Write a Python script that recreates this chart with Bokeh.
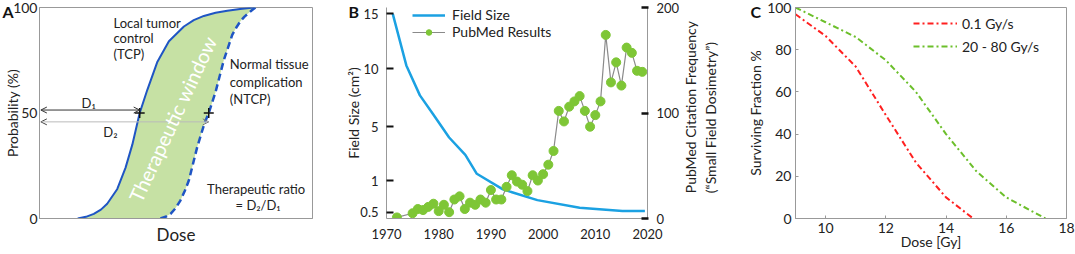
import numpy as np
from bokeh.plotting import figure
from bokeh.layouts import row
from bokeh.models import (LinearAxis, FixedTicker, Label, Arrow, OpenHead,
                          Legend, LegendItem, Range1d, Title)
from bokeh.embed import file_html
from bokeh.resources import INLINE

FONT = "Lato"
TXT = "#222222"

# ---------------- Panel A data (dose in arbitrary units, probability %) -------------
tcp_dose = [1.40, 1.70, 1.99, 2.25, 2.48, 2.85, 3.15, 3.40, 3.67, 3.95, 4.31, 4.74,
            5.29, 5.65, 6.02, 6.45, 6.88, 7.35, 7.85]
tcp_prob = [0, 0.8, 2.2, 4.2, 7, 14, 24, 35, 50, 61, 74, 84, 91, 94, 96, 97.5, 98.5, 99.3, 100]
ntcp_dose = [4.43, 4.62, 4.80, 4.98, 5.16, 5.32, 5.47, 5.78, 6.04, 6.20, 6.45, 6.75,
             7.06, 7.21, 7.36, 7.51, 7.67, 7.79, 7.91]
ntcp_prob = [0, 0.8, 2.2, 4.8, 8.5, 13, 18, 34, 45, 50, 60, 75, 87, 90.5, 93.5, 95.7, 97.5, 98.8, 100]
a_yticks = [0, 50, 100]

# ---------------- Panel B data ----------------
fs_years = [1971.2, 1973.8, 1976.4, 1978.9, 1982.0, 1985.1, 1987.3, 1992.3, 1998.9, 2007.0, 2015.2, 2019.5]
fs_vals = [15, 10.3, 7.7, 6.1, 4.2, 2.9, 1.5, 0.86, 0.69, 0.57, 0.52, 0.52]
fs_tick_vals = [0.5, 1, 5, 10, 15]
fs_tick_labels = ["0.5", "1", "5", "10", "15"]
fs_tick_pos = [6, 36, 87, 142, 194]   # where each field-size tick sits on the 0-200 scale

pm_years = [1972] + list(range(1975, 2020))
pm_vals = [1, 5, 9, 8, 11, 14, 7, 13, 6, 18, 21, 9, 15, 13, 18, 15, 27, 18, 18, 30,
           41, 35, 32, 26, 41, 36, 42, 51, 64, 102, 92, 106, 111, 116, 102, 87, 98,
           111, 174, 129, 148, 126, 162, 157, 140, 139]
b_xticks = [1970, 1980, 1990, 2000, 2010, 2020]
b_rticks = [0, 100, 200]

# ---------------- Panel C data ----------------
red_dose = [9, 10, 11, 12, 13, 14, 14.9]
red_sf = [96.8, 86.5, 72, 49, 26.5, 10, 0]
green_dose = [9, 10, 11, 12, 13, 14, 15, 16, 17.3]
green_sf = [100, 93, 86, 75, 60, 40, 22.5, 10, 0]
c_xticks = [10, 12, 14, 16, 18]
c_yticks = [0, 20, 40, 60, 80, 100]

H = 254
MBT, MBB = 7, 36
FH = H - MBT - MBB


def base_fig(width, xr, yr, mbl, mbr):
    p = figure(width=width, height=H, x_range=xr, y_range=yr, title=None,
               output_backend="svg", toolbar_location=None,
               min_border_left=mbl, min_border_right=mbr,
               min_border_top=MBT, min_border_bottom=MBB)
    p.xgrid.visible = False
    p.ygrid.visible = False
    p.background_fill_color = "white"
    p.border_fill_color = "white"
    return p


def style_axis(ax, size="13px", standoff=3, label=None, label_size="14px", label_standoff=0):
    ax.major_label_text_font = FONT
    ax.major_label_text_font_size = size
    ax.major_label_text_color = TXT
    ax.minor_tick_line_color = None
    ax.major_label_standoff = standoff
    if label is not None:
        ax.axis_label = label
        ax.axis_label_text_font = FONT
        ax.axis_label_text_font_size = label_size
        ax.axis_label_text_font_style = "normal"
        ax.axis_label_text_color = TXT
        ax.axis_label_standoff = label_standoff


def lab(p, text, x, y, size="13px", angle=0, align="left", color=TXT):
    p.add_layout(Label(x=x, y=y, text=text,
                       text_font=FONT, text_font_size=size, text_color=color,
                       text_align=align, text_baseline="middle",
                       angle=angle, angle_units="deg"))


def letter(p, text, offset):
    p.add_layout(Title(text=text, align="left", offset=offset, standoff=-26,
                       text_font=FONT, text_font_size="16px", text_font_style="bold",
                       text_color="#111111"), "above")


# ======================= Panel A =======================
A_W = 340
pa = base_fig(A_W, Range1d(0, 10), Range1d(0, 100), 39, 28)
pa.outline_line_color = "#999999"
pa.xaxis.ticker = FixedTicker(ticks=[])
style_axis(pa.xaxis[0], "13px", 0, "Dose", "17px", 5)
pa.xaxis.axis_line_color = "#999999"
pa.xaxis.major_tick_line_color = None
pa.xaxis.major_tick_out = 0
pa.xaxis.major_tick_in = 0
pa.yaxis.ticker = FixedTicker(ticks=a_yticks)
style_axis(pa.yaxis[0], "14px", 2, "Probability (%)", "14px", -11)
pa.yaxis.axis_line_color = "#999999"
pa.yaxis.major_tick_line_color = None
pa.yaxis.major_tick_out = 0
pa.yaxis.major_tick_in = 0

pa.patch(tcp_dose + ntcp_dose[::-1], tcp_prob + ntcp_prob[::-1],
         fill_color="#c6e1a4", line_color=None)
pa.line(tcp_dose, tcp_prob, line_color="#1f55c4", line_width=2)
pa.line(ntcp_dose, ntcp_prob, line_color="#1f55c4", line_width=2.5, line_dash="7 4")

D1 = float(np.interp(50, tcp_prob, tcp_dose))
D2 = float(np.interp(50, ntcp_prob, ntcp_dose))
pa.add_layout(Arrow(x_start=0.05, y_start=51.4, x_end=D1, y_end=51.4,
                    line_color="#333333", line_width=1,
                    start=OpenHead(size=6, line_color="#333333", line_width=1),
                    end=OpenHead(size=6, line_color="#333333", line_width=1)))
pa.add_layout(Arrow(x_start=0.05, y_start=45.8, x_end=D2, y_end=45.8,
                    line_color="#bbbbbb", line_width=1,
                    start=OpenHead(size=6, line_color="#444444", line_width=1),
                    end=OpenHead(size=6, line_color="#777777", line_width=1)))
pa.scatter([D1, D2], [50, 50], marker="cross", size=10, line_color="#111111", line_width=1.5)

lab(pa, "Therapeutic window", 4.87, 47.2, size="20px", angle=65, align="center", color="white")
for t, yy in zip(["Local tumor", "control", "(TCP)"], [92.5, 85.4, 77.8]):
    lab(pa, t, 2.71, yy)
for t, yy in zip(["Normal tissue", "complication", "(NTCP)"], [73, 64.6, 56.5]):
    lab(pa, t, 6.97, yy)
lab(pa, "Therapeutic ratio", 6.14, 14)
lab(pa, "= D\u2082/D\u2081", 7.18, 6.6)
lab(pa, "D\u2081", 1.80, 54.7, align="center")
lab(pa, "D\u2082", 2.60, 41.2, align="center")
letter(pa, "A", -37)

# ======================= Panel B =======================
B_MBL, B_MBR, B_W = 46, 87, 400
pb = base_fig(B_W, Range1d(1970, 2020), Range1d(0, 200), B_MBL, B_MBR)
pb.outline_line_color = None
pb.xaxis.ticker = FixedTicker(ticks=b_xticks)
style_axis(pb.xaxis[0], "13px", 4)
pb.xaxis.major_tick_line_color = None
pb.xaxis.axis_line_color = "#999999"

pb.yaxis.ticker = FixedTicker(ticks=fs_tick_pos)
pb.yaxis.major_label_overrides = {pos: l for pos, l in zip(fs_tick_pos, fs_tick_labels)}
style_axis(pb.yaxis[0], "13px", 8, "Field Size (cm\u00b2)", "14px", -5)
pb.yaxis.axis_line_color = "#999999"
pb.yaxis.major_tick_in = 7
pb.yaxis.major_tick_out = 0
pb.yaxis.major_tick_line_width = 2
pb.yaxis.major_tick_line_color = "#111111"

rax = LinearAxis(ticker=FixedTicker(ticks=b_rticks))
style_axis(rax, "13px", 8)
rax.axis_line_color = "#999999"
rax.major_tick_in = 6
rax.major_tick_out = 1
rax.major_tick_line_width = 2.5
rax.major_tick_line_color = "#111111"
pb.add_layout(rax, "right")

# right-hand title, written as a rotated (bottom-to-top) label of an extra bare axis
pm_title = "PubMed Citation Frequency\n(\u201cSmall Field Dosimetry\u201d)"
pm_title_start = 24
rax2 = LinearAxis(ticker=FixedTicker(ticks=[pm_title_start]),
                  major_label_overrides={pm_title_start: pm_title})
style_axis(rax2, "14px", 18)
rax2.major_label_orientation = np.pi / 2
rax2.axis_line_color = None
rax2.major_tick_line_color = None
rax2.major_tick_in = 0
rax2.major_tick_out = 0
pb.add_layout(rax2, "right")

fs_y = np.interp(fs_vals, fs_tick_vals, fs_tick_pos)
r_fs = pb.line(fs_years, fs_y, line_color="#1ba1e2", line_width=2.5)
r_pml = pb.line(pm_years, pm_vals, line_color="#8a8a8a", line_width=1.2)
r_pms = pb.scatter(pm_years, pm_vals, size=9, fill_color="#7ec636", line_color="#7ec636")

leg_b = Legend(items=[LegendItem(label="Field Size", renderers=[r_fs]),
                      LegendItem(label="PubMed Results", renderers=[r_pml, r_pms])],
               location=(26, FH - 33), glyph_width=33, glyph_height=14,
               label_height=14, spacing=0, padding=0, margin=0,
               label_standoff=7, border_line_color=None, background_fill_alpha=0,
               label_text_font=FONT, label_text_font_size="14px",
               label_text_color=TXT)
pb.add_layout(leg_b)
letter(pb, "B", -38)

# ======================= Panel C =======================
C_MBL, C_MBR, C_W = 55, 9, 335
pc = base_fig(C_W, Range1d(9, 18), Range1d(0, 100), C_MBL, C_MBR)
pc.outline_line_color = "#999999"
pc.xaxis.ticker = FixedTicker(ticks=c_xticks)
pc.yaxis.ticker = FixedTicker(ticks=c_yticks)
style_axis(pc.xaxis[0], "14px", 4, "Dose [Gy]", "14px", -3)
style_axis(pc.yaxis[0], "14px", 4, "Surviving Fraction %", "14px", 0)
for ax in (pc.xaxis[0], pc.yaxis[0]):
    ax.axis_line_color = "#999999"
    ax.major_tick_in = 3
    ax.major_tick_out = 0
    ax.major_tick_line_color = "#999999"

r_red = pc.line(red_dose, red_sf, line_color="#ff2020", line_width=2, line_dash="6 3 2 3")
r_green = pc.line(green_dose, green_sf, line_color="#6cbf2b", line_width=2, line_dash="6 3 2 3")
leg_c = Legend(items=[LegendItem(label="0.1 Gy/s", renderers=[r_red]),
                      LegendItem(label="20 - 80 Gy/s", renderers=[r_green])],
               location=(118, FH - 49), glyph_width=44, glyph_height=20,
               label_height=20, spacing=3, padding=0, margin=0,
               label_standoff=5, border_line_color=None, background_fill_alpha=0,
               label_text_font=FONT, label_text_font_size="14px",
               label_text_color=TXT)
pc.add_layout(leg_c)
letter(pc, "C", -45)

layout = row(pa, pb, pc)
open("out.html", "w").write(file_html(layout, INLINE))
